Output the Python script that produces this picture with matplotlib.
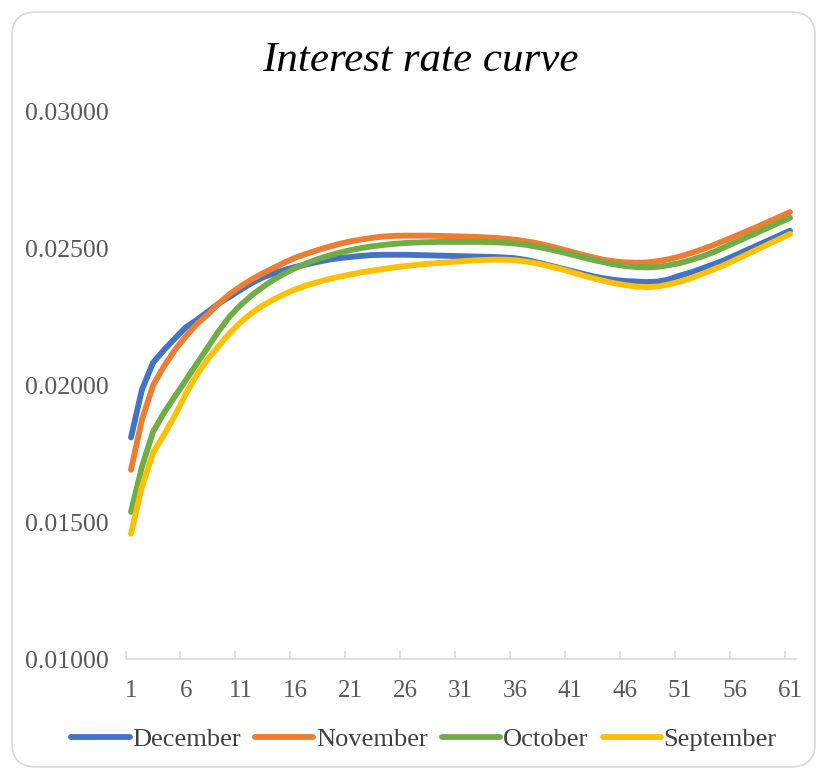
import numpy as np
import matplotlib
matplotlib.use("Agg")
import matplotlib.pyplot as plt
from matplotlib.patches import FancyBboxPatch

plt.rcParams["font.family"] = ["Liberation Serif", "DejaVu Serif"]

maturity = list(range(1, 62))

december = [
    0.01810, 0.01985, 0.02083, 0.02130, 0.02172, 0.02213, 0.02240, 0.02270, 0.02300, 0.02325,
    0.02350, 0.02375, 0.02395, 0.02410, 0.02423, 0.02434, 0.02443, 0.02452, 0.02460, 0.02466,
    0.02470, 0.02474, 0.02477, 0.02478, 0.02478, 0.02478, 0.02477, 0.02476, 0.02475, 0.02474,
    0.02473, 0.02472, 0.02471, 0.02470, 0.02468, 0.02465, 0.02459, 0.02450, 0.02440, 0.02430,
    0.02420, 0.02410, 0.02400, 0.02392, 0.02386, 0.02382, 0.02380, 0.02378, 0.02380, 0.02388,
    0.02402, 0.02414, 0.02428, 0.02443, 0.02458, 0.02476, 0.02494, 0.02512, 0.02530, 0.02548,
    0.02566,
]
november = [
    0.01692, 0.01875, 0.02000, 0.02070, 0.02130, 0.02180, 0.02225, 0.02260, 0.02300, 0.02335,
    0.02363, 0.02388, 0.02410, 0.02430, 0.02450, 0.02468, 0.02482, 0.02495, 0.02507, 0.02518,
    0.02527, 0.02534, 0.02540, 0.02545, 0.02547, 0.02548, 0.02548, 0.02548, 0.02547, 0.02546,
    0.02545, 0.02544, 0.02542, 0.02540, 0.02537, 0.02533, 0.02527, 0.02520, 0.02511, 0.02501,
    0.02490, 0.02479, 0.02469, 0.02460, 0.02454, 0.02450, 0.02449, 0.02450, 0.02455, 0.02462,
    0.02472, 0.02484, 0.02498, 0.02513, 0.02529, 0.02546, 0.02563, 0.02580, 0.02598, 0.02616,
    0.02634,
]
october = [
    0.01538, 0.01703, 0.01830, 0.01900, 0.01960, 0.02020, 0.02080, 0.02140, 0.02200, 0.02253,
    0.02295, 0.02330, 0.02360, 0.02387, 0.02410, 0.02430, 0.02447, 0.02462, 0.02475, 0.02486,
    0.02495, 0.02503, 0.02509, 0.02514, 0.02518, 0.02521, 0.02523, 0.02524, 0.02525, 0.02525,
    0.02525, 0.02525, 0.02525, 0.02524, 0.02522, 0.02519, 0.02514, 0.02507, 0.02499, 0.02490,
    0.02480, 0.02470, 0.02460, 0.02451, 0.02443, 0.02437, 0.02433, 0.02432, 0.02434, 0.02440,
    0.02448, 0.02459, 0.02472, 0.02487, 0.02505, 0.02523, 0.02541, 0.02559, 0.02577, 0.02595,
    0.02613,
]
september = [
    0.01458, 0.01630, 0.01753, 0.01820, 0.01890, 0.01970, 0.02040, 0.02097, 0.02145, 0.02192,
    0.02232, 0.02265, 0.02292, 0.02315, 0.02335, 0.02352, 0.02366, 0.02378, 0.02389, 0.02398,
    0.02406, 0.02414, 0.02420, 0.02426, 0.02432, 0.02437, 0.02441, 0.02445, 0.02448, 0.02451,
    0.02454, 0.02457, 0.02459, 0.02460, 0.02460, 0.02458, 0.02453, 0.02446, 0.02437, 0.02427,
    0.02416, 0.02404, 0.02393, 0.02383, 0.02374, 0.02367, 0.02362, 0.02360, 0.02362, 0.02370,
    0.02380, 0.02393, 0.02408, 0.02424, 0.02440, 0.02459, 0.02478, 0.02497, 0.02516, 0.02535,
    0.02554,
]

series = [
    ("December", december, "#4472C4"),
    ("November", november, "#ED7D31"),
    ("October", october, "#70AD47"),
    ("September", september, "#FFC000"),
]

fig = plt.figure(figsize=(8.19, 7.71), dpi=100)

# rounded chart border, kept behind the axes
border = FancyBboxPatch((12 / 819, 4 / 771), 803 / 819, 755 / 771,
                        boxstyle="round,pad=0,rounding_size=0.03",
                        transform=fig.transFigure, facecolor="white",
                        edgecolor="#D9D9D9", linewidth=1.2, zorder=-5)
fig.patches.append(border)

ax = fig.add_axes([125.5 / 819, 112 / 771, 670 / 819, 547 / 771])
ax.set_facecolor("none")
ax.set_zorder(2)

for name, vals, color in series:
    ax.plot(maturity, vals, color=color, lw=4.2, label=name,
            solid_capstyle="round", solid_joinstyle="round")

ax.set_xlim(0.5, 61.5)
ax.set_ylim(0.01, 0.03)

yt = np.arange(0.01, 0.0301, 0.005)
ax.set_yticks(yt)
ax.set_yticklabels([f"{v:.5f}" for v in yt])
ax.tick_params(axis="y", length=0, pad=12, labelsize=18.5, labelcolor="#595959")

ax.set_xticks(maturity[::5])
ax.set_xticklabels([str(m) for m in maturity[::5]])
ax.set_xticks(np.arange(0.5, 61, 5), minor=True)
ax.tick_params(axis="x", which="major", length=0, pad=15, labelsize=18,
               labelcolor="#595959")
ax.tick_params(axis="x", which="minor", direction="in", length=6,
               color="#D9D9D9", width=1.2)

for s in ["top", "right", "left"]:
    ax.spines[s].set_visible(False)
ax.spines["bottom"].set_color("#D9D9D9")
ax.spines["bottom"].set_linewidth(1.2)

fig.text(420 / 819, 1 - 61 / 771, "Interest rate curve", ha="center", va="center",
         fontsize=31, style="italic", color="black")

fig.legend(loc="center", bbox_to_anchor=(424 / 819, 1 - 739 / 771), ncol=4,
           frameon=False, fontsize=19, handlelength=2.2, handletextpad=0.1,
           columnspacing=0.55, labelcolor="#404040")

fig.savefig("out.png", dpi=100)
